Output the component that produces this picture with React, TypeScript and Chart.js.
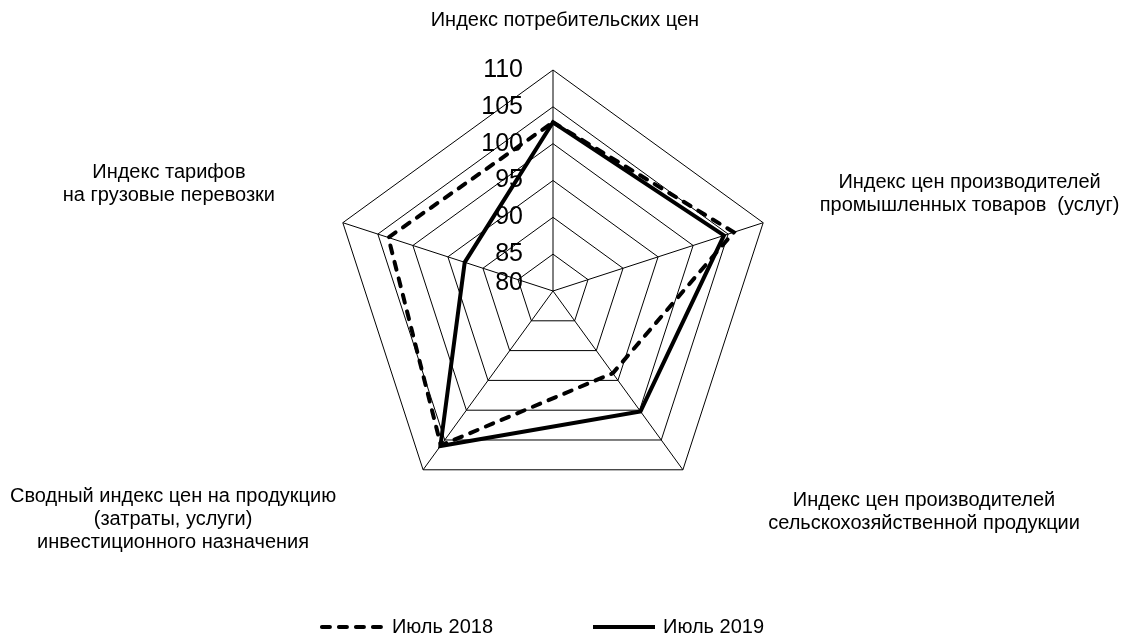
import React, { useEffect, useRef } from "react";
import { Chart, registerables } from "chart.js";

Chart.register(...registerables);

const categories: string[][] = [
  ["Индекс потребительских цен"],
  ["Индекс цен производителей", "промышленных товаров  (услуг)"],
  ["Индекс цен производителей", "сельскохозяйственной продукции"],
  ["Сводный индекс цен на продукцию", "(затраты, услуги)", "инвестиционного назначения"],
  ["Индекс тарифов", "на грузовые перевозки"],
];

const seriesNames = ["Июль 2018", "Июль 2019"];
const values2018 = [102.9, 105.8, 93.8, 105.9, 103.5];
const values2019 = [102.9, 104.4, 100.2, 106.0, 92.6];

const scaleMin = 80;
const scaleMax = 110;
const scaleStep = 5;

// label block centers, relative to radar centre, in units of radius
const labelOffsets: [number, number][] = [
  [0.054, -1.222],
  [1.885, -0.439],
  [1.679, 1.0],
  [-1.719, 1.035],
  [-1.738, -0.482],
];

const FONT = '"Liberation Sans", Arial, sans-serif';
const DASH = [8, 9];

const customDraw = {
  id: "customDraw",
  afterDraw(chart: any) {
    const ctx = chart.ctx;
    const scale = chart.scales.r;
    const xc = scale.xCenter;
    const yc = scale.yCenter;
    const r = scale.drawingArea;
    ctx.save();
    ctx.fillStyle = "#000";

    // tick labels
    ctx.font = `25px ${FONT}`;
    ctx.textAlign = "right";
    ctx.textBaseline = "middle";
    scale.ticks.forEach((t: any) => {
      const d = scale.getDistanceFromCenterForValue(t.value);
      let y = yc - d;
      if (y > yc - 8) y = yc - 8;
      ctx.fillText(String(t.value), xc - 30, y);
    });

    // category labels
    ctx.font = `20px ${FONT}`;
    ctx.textAlign = "center";
    const lh = 23;
    categories.forEach((lines, i) => {
      const [ox, oy] = labelOffsets[i];
      const cx = xc + ox * r;
      const cy = yc + oy * r;
      const y0 = cy - ((lines.length - 1) * lh) / 2;
      lines.forEach((ln, j) => ctx.fillText(ln, cx, y0 + j * lh));
    });

    // legend
    ctx.textAlign = "left";
    const sample = 66;
    const gapText = 6;
    const gapItem = 98;
    const widths = seriesNames.map((s) => ctx.measureText(s).width);
    const total = sample * 2 + gapText * 2 + widths[0] + widths[1] + gapItem;
    let x = xc - 11 - total / 2;
    const ly = chart.height - 9;
    chart.data.datasets.forEach((ds: any, i: number) => {
      ctx.save();
      ctx.strokeStyle = "#000";
      ctx.lineWidth = 4;
      ctx.lineCap = ds.borderDash && ds.borderDash.length ? "round" : "butt";
      ctx.setLineDash(ds.borderDash || []);
      ctx.beginPath();
      ctx.moveTo(x + 2, ly);
      ctx.lineTo(x + sample - 2, ly);
      ctx.stroke();
      ctx.restore();
      ctx.fillText(seriesNames[i], x + sample + gapText, ly);
      x += sample + gapText + widths[i] + gapItem;
    });
    ctx.restore();
  },
};

export default function App() {
  const ref = useRef<HTMLCanvasElement>(null);
  useEffect(() => {
    if (!ref.current) return;
    const chart = new Chart(ref.current, {
      type: "radar",
      data: {
        labels: categories,
        datasets: [
          {
            label: seriesNames[0],
            data: values2018,
            borderColor: "#000",
            borderWidth: 4,
            borderDash: DASH,
            borderCapStyle: "round",
            borderJoinStyle: "miter",
            pointRadius: 0,
            fill: false,
          },
          {
            label: seriesNames[1],
            data: values2019,
            borderColor: "#000",
            borderWidth: 4,
            borderJoinStyle: "miter",
            pointRadius: 0,
            fill: false,
          },
        ],
      },
      options: {
        responsive: false,
        animation: false,
        layout: { padding: { top: 70, bottom: 124, left: 332, right: 348 } },
        plugins: { legend: { display: false }, tooltip: { enabled: false } },
        scales: {
          r: {
            min: scaleMin,
            max: scaleMax,
            ticks: { stepSize: scaleStep, display: false },
            grid: { color: "#000", lineWidth: 1 },
            angleLines: { color: "#000", lineWidth: 1 },
            pointLabels: { display: false },
          },
        },
      },
      plugins: [customDraw],
    });
    return () => chart.destroy();
  }, []);
  return (
    <div style={{ position: "fixed", left: 0, top: 0, width: 1122, height: 636, background: "#fff" }}>
      <canvas ref={ref} width={1122} height={636} />
    </div>
  );
}
